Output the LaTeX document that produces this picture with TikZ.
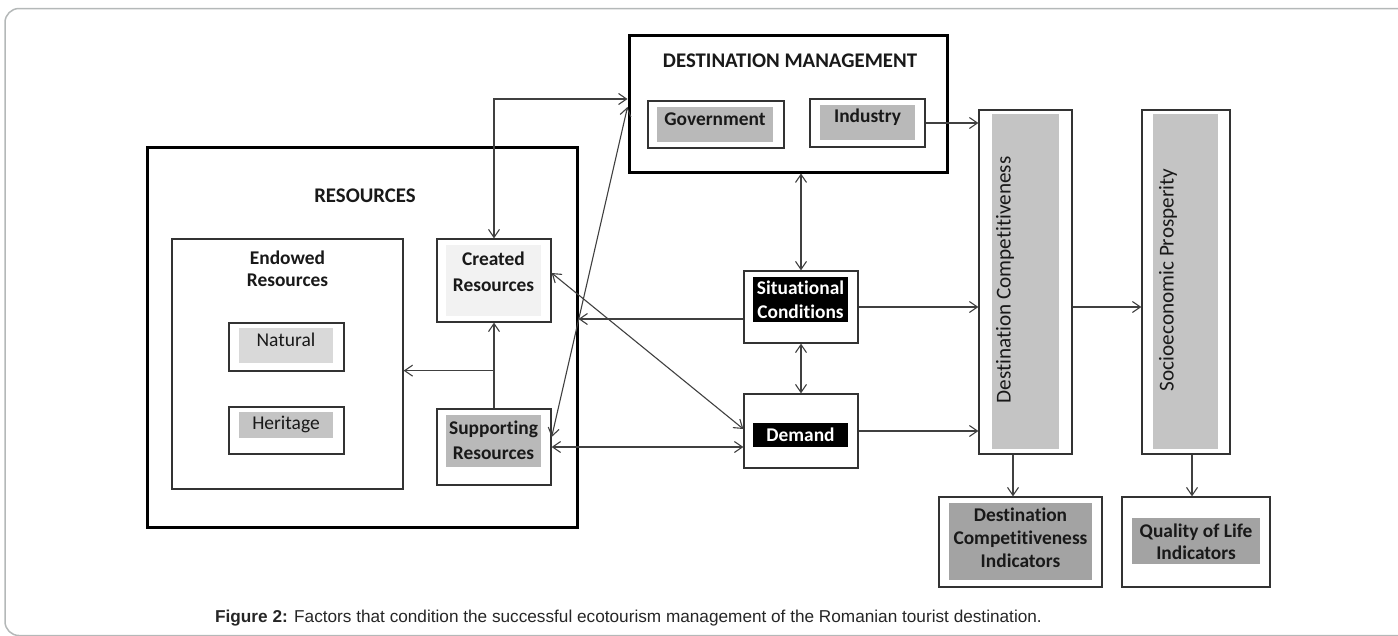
\documentclass[tikz,border=0pt]{standalone}
\usepackage{fontspec}
\setmainfont{Carlito}[Ligatures=NoCommon]
\newfontfamily\capfont{Liberation Sans}
\usetikzlibrary{arrows.meta,calc}

\definecolor{framegrey}{HTML}{B4B8B8}
\definecolor{linegrey}{HTML}{404040}
\definecolor{boxline}{HTML}{333333}
\definecolor{natgrey}{HTML}{D9D9D9}
\definecolor{midgrey}{HTML}{C4C4C4}
\definecolor{lightgrey}{HTML}{F2F2F2}
\definecolor{govgrey}{HTML}{B9B9B9}
\definecolor{darkgrey}{HTML}{A3A3A3}

\begin{document}
\begin{tikzpicture}[x=1pt,y=-1pt,>={Straight Barb[length=8pt,width=11pt]}]
        \tikzstyle{every node} = [rectangle, inner sep=0pt]
        \tikzstyle{box} = [draw=boxline, line width=1.3pt, fill=white]
        \tikzstyle{bigbox} = [draw=black, line width=3pt, fill=white]
        \tikzstyle{txt} = [font=\bfseries\fontsize{19.4}{24}\selectfont, align=center, text=black!90]
        \tikzstyle{plain} = [font=\fontsize{19.5}{24}\selectfont, align=center, text=black!90]
        \tikzstyle{headtxt} = [font=\bfseries\fontsize{20.8}{25}\selectfont, text=black!90]
        \tikzstyle{conn} = [draw=linegrey, line width=1.1pt]
        \useasboundingbox (0,0) rectangle (1398,635);
        \draw[framegrey, line width=1.5pt, rounded corners=14pt] (1420,8.5) -- (5,8.5) -- (5,635.5) -- (1420,635.5);

        % resources
        \node[bigbox, minimum width=430pt, minimum height=380pt] (resources) at (362,337) {};
        \node[headtxt] (restitle) at (365,196) {RESOURCES};
        \node[box, minimum width=231pt, minimum height=250pt] (endowed) at (287.5,364) {};
        \node[txt] (endowedtxt) at (287.5,269) {Endowed\\[-2pt]Resources};
        \node[box, minimum width=115pt, minimum height=48pt] (natural) at (286.5,347) {};
        \node[fill=natgrey, minimum width=94pt, minimum height=35pt] (naturalin) at (286,345.5) {};
        \node[plain] (naturaltxt) at (286,340) {Natural};
        \node[box, minimum width=115pt, minimum height=47pt] (heritage) at (286.5,430.5) {};
        \node[fill=midgrey, minimum width=94pt, minimum height=26pt] (heritagein) at (286,425) {};
        \node[plain] (heritagetxt) at (286,424) {Heritage};
        \node[box, minimum width=114pt, minimum height=83pt] (created) at (494,280.5) {};
        \node[fill=lightgrey, minimum width=95pt, minimum height=71pt] (createdin) at (493.5,280.5) {};
        \node[txt] (createdtxt) at (493.5,272) {Created\\[2pt]Resources};
        \node[box, minimum width=114pt, minimum height=76pt] (supporting) at (494,447) {};
        \node[fill=govgrey, minimum width=95pt, minimum height=52pt] (supportingin) at (493.5,441) {};
        \node[txt] (supportingtxt) at (493.5,440) {Supporting\\[1pt]Resources};

        % destination management
        \node[bigbox, minimum width=318pt, minimum height=137pt] (dm) at (788,103.5) {};
        \node[headtxt] (dmtitle) at (790,61) {DESTINATION MANAGEMENT};
        \node[box, minimum width=136pt, minimum height=47pt] (government) at (716,124.5) {};
        \node[fill=govgrey, minimum width=116pt, minimum height=35pt] (governmentin) at (715,124.5) {};
        \node[txt] (governmenttxt) at (715,119) {Government};
        \node[box, minimum width=115pt, minimum height=48pt] (industry) at (867.5,123) {};
        \node[fill=govgrey, minimum width=95pt, minimum height=35pt] (industryin) at (867.5,122.5) {};
        \node[txt] (industrytxt) at (867.5,117) {Industry};

        % conditions and demand
        \node[box, minimum width=114pt, minimum height=72pt] (sc) at (801,307) {};
        \node[fill=black, minimum width=95pt, minimum height=45pt] (scin) at (800.5,299.5) {};
        \node[txt, text=white] (sctxt) at (800.5,300) {Situational\\Conditions};
        \node[box, minimum width=114pt, minimum height=74pt] (demand) at (801,431) {};
        \node[fill=black, minimum width=95pt, minimum height=24pt] (demandin) at (800.5,435) {};
        \node[txt, text=white] (demandtxt) at (800.5,435) {Demand};

        % outcomes
        \node[box, minimum width=93pt, minimum height=344pt] (dc) at (1025.5,282) {};
        \node[fill=midgrey, minimum width=67pt, minimum height=335pt] (dcin) at (1025.5,281.5) {};
        \node[plain, rotate=90, font=\fontsize{21.2}{25}\selectfont] (dctxt) at (1005,280) {Destination Competitiveness};
        \node[box, minimum width=88pt, minimum height=344pt] (sp) at (1186,282) {};
        \node[fill=midgrey, minimum width=65pt, minimum height=335pt] (spin) at (1185.5,281.5) {};
        \node[plain, rotate=90, font=\fontsize{21.2}{25}\selectfont] (sptxt) at (1168,280) {Socioeconomic Prosperity};
        \node[box, minimum width=163pt, minimum height=90pt] (dci) at (1020.5,542) {};
        \node[fill=darkgrey, minimum width=143pt, minimum height=77pt] (dciin) at (1020.5,541.5) {};
        \node[txt, font=\bfseries\fontsize{19.4}{23}\selectfont] (dcitxt) at (1020.5,538) {Destination\\Competitiveness\\Indicators};
        \node[box, minimum width=148pt, minimum height=90pt] (qol) at (1196,542) {};
        \node[fill=darkgrey, minimum width=128pt, minimum height=46pt] (qolin) at (1196,541) {};
        \node[txt, font=\bfseries\fontsize{19.4}{22}\selectfont] (qoltxt) at (1196,542) {Quality of Life\\Indicators};

        \node[font=\capfont\fontsize{17.2}{20}\selectfont, text=black!85] (caption) at (628.5,618)
            {\textbf{Figure 2:} Factors that condition the successful ecotourism management of the Romanian tourist destination.};

        % connectors
        \coordinate (scl) at ([yshift=-12pt]sc.west);
        \coordinate (split) at ($(supporting.north)!0.44!(created.south)$);
        \coordinate (dcout) at ([xshift=-12.5pt]dc.south);
        \coordinate (spout) at ([xshift=6pt]sp.south);
        \draw[conn, <->] (created.north) |- ([yshift=4.5pt]dm.west);
        \draw[conn, <->] ([yshift=-3.5pt]dm.west) -- ([yshift=10pt]supporting.east);
        \draw[conn, ->] (scl) -- (scl -| resources.east);
        \draw[conn, <->] ([yshift=7.5pt]created.east) -- ([yshift=2pt]demand.west);
        \draw[conn, <->] (supporting.east) -- (supporting.east -| demand.west);
        \draw[conn, ->] (supporting.north) -- (created.south);
        \draw[conn, ->] (split) -- (split -| endowed.east);
        \draw[conn, <->] (sc.north) -- (sc.north |- dm.south);
        \draw[conn, <->] (sc.south) -- (demand.north);
        \foreach \from in {industry, sc, demand}
            \draw[conn, ->] (\from.east) -- (\from.east -| dc.west);
        \draw[conn, ->] (sc.east -| dc.east) -- (sc.east -| sp.west);
        \draw[conn, ->] (dcout) -- (dcout |- dci.north);
        \draw[conn, ->] (spout) -- (spout |- qol.north);
\end{tikzpicture}
\end{document}
